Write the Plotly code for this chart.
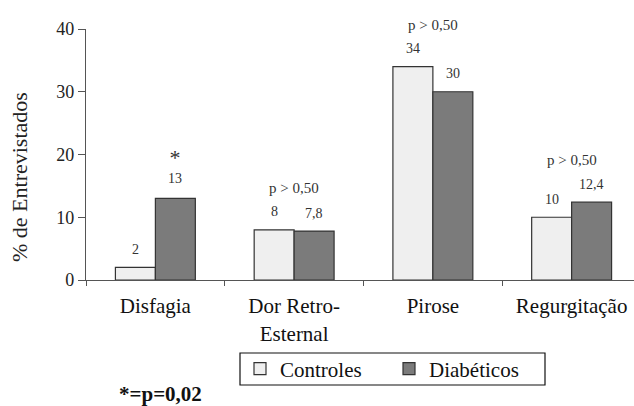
import plotly.graph_objects as go

categories = ["Disfagia", "Dor Retro-<br>Esternal", "Pirose", "Regurgitação"]
controles = [2, 8, 34, 10]
diabeticos = [13, 7.8, 30, 12.4]
controles_labels = ["2", "8", "34", "10"]
diabeticos_labels = ["13", "7,8", "30", "12,4"]
significance = ["*", "", "", ""]
p_labels = ["", "p > 0,50", "p > 0,50", "p > 0,50"]
footnote = "*=p=0,02"
y_ticks = [0, 10, 20, 30, 40]

FONT = "Liberation Serif"
W, H = 634, 406
ML, MR, MT, MB = 86, 0, 29, 126
PW, PH = W - ML - MR, H - MT - MB


def px_x(px):
    return (px - ML) / PW


def px_y(py):
    return (H - MB - py) / PH


fig = go.Figure()
fig.add_trace(go.Bar(
    x=categories, y=controles, name="Controles",
    marker=dict(color="#efefef", line=dict(color="#333333", width=1.2)),
))
fig.add_trace(go.Bar(
    x=categories, y=diabeticos, name="Diabéticos",
    marker=dict(color="#7b7b7b", line=dict(color="#333333", width=1.2)),
))

annotations = []
for cat, v, t in zip(categories, controles, controles_labels):
    annotations.append(dict(x=cat, y=v, xref="x", yref="y", text=t, showarrow=False,
                            xshift=-20, yshift=18, yanchor="middle",
                            font=dict(family=FONT, size=14, color="#333")))
for cat, v, t, s in zip(categories, diabeticos, diabeticos_labels, significance):
    if s:
        txt = f"<span style='font-size:22px'>{s}</span><br>{t}"
        annotations.append(dict(x=cat, y=v, xref="x", yref="y", text=txt, showarrow=False,
                                xshift=20, yshift=10, yanchor="bottom",
                                font=dict(family=FONT, size=14, color="#333")))
    else:
        annotations.append(dict(x=cat, y=v, xref="x", yref="y", text=t, showarrow=False,
                                xshift=20, yshift=18, yanchor="middle",
                                font=dict(family=FONT, size=14, color="#333")))
for cat, a, b, t in zip(categories, controles, diabeticos, p_labels):
    if t:
        annotations.append(dict(x=cat, y=max(a, b), xref="x", yref="y", text=t, showarrow=False,
                                yshift=42, yanchor="middle",
                                font=dict(family=FONT, size=15, color="#333")))
# y-axis title
annotations.append(dict(x=px_x(20), y=px_y(177), xref="paper", yref="paper",
                        text="% de Entrevistados", textangle=-90, showarrow=False,
                        xanchor="center", yanchor="middle",
                        font=dict(family=FONT, size=22, color="#222")))
# footnote
annotations.append(dict(x=px_x(160), y=px_y(394), xref="paper", yref="paper",
                        text=f"<b>{footnote}</b>", showarrow=False,
                        xanchor="center", yanchor="middle",
                        font=dict(family=FONT, size=21, color="#111")))

shapes = [dict(type="rect", xref="paper", yref="paper",
               x0=px_x(240), x1=px_x(545), y0=px_y(385), y1=px_y(353),
               line=dict(color="#111", width=1.2), fillcolor="rgba(0,0,0,0)", layer="below")]

fig.update_layout(
    width=W, height=H,
    margin=dict(l=ML, r=MR, t=MT, b=MB),
    paper_bgcolor="white", plot_bgcolor="white",
    barmode="group", bargap=0.424, bargroupgap=0,
    font=dict(family=FONT, color="#222"),
    annotations=annotations,
    shapes=shapes,
    legend=dict(
        orientation="h",
        x=px_x(240), xanchor="left",
        y=px_y(369), yanchor="middle",
        bgcolor="rgba(0,0,0,0)", borderwidth=0,
        font=dict(family=FONT, size=21, color="#111"),
        entrywidth=104, entrywidthmode="pixels",
    ),
    showlegend=True,
)
fig.update_xaxes(
    range=[-0.5, -0.5 + PW / 138.75],
    showline=True, linecolor="#555", linewidth=1.3,
    ticks="outside", tickson="boundaries", ticklen=5, tickcolor="#555",
    ticklabelstandoff=7,
    tickfont=dict(family=FONT, size=21, color="#111"),
    showgrid=False, zeroline=False,
)
fig.update_yaxes(
    range=[0, 40], tickvals=y_ticks,
    showline=True, linecolor="#555", linewidth=1.3,
    ticks="outside", ticklen=7, tickcolor="#555",
    tickfont=dict(family=FONT, size=18, color="#222"),
    showgrid=False, zeroline=False,
)

fig.write_html("out.html")
